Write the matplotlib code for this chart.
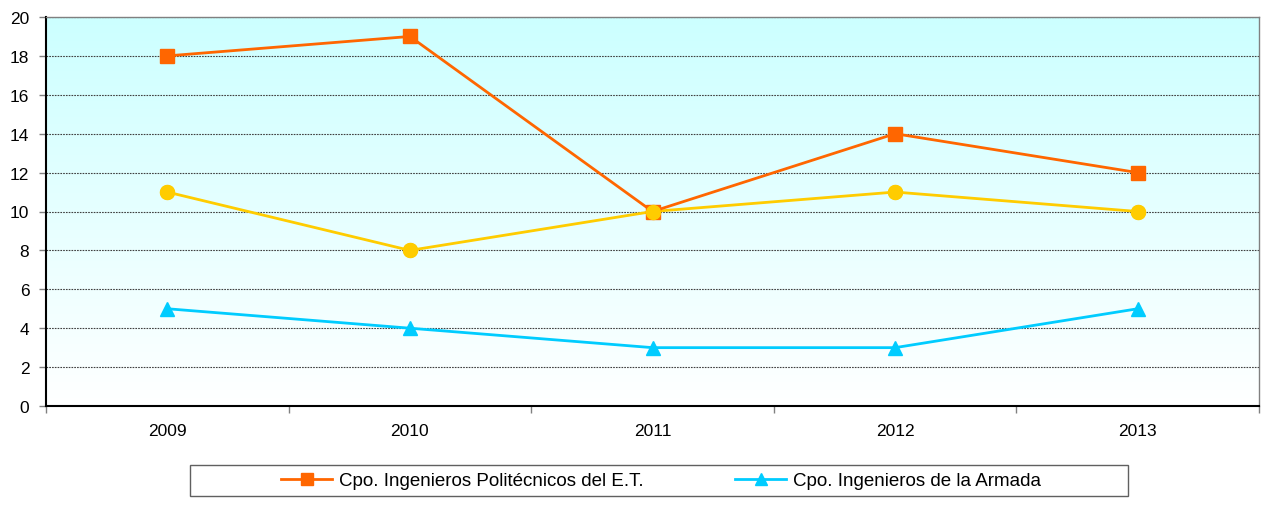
import numpy as np
import matplotlib.pyplot as plt
from matplotlib.patches import Rectangle

years = ['2009', '2010', '2011', '2012', '2013']
politecnicos = [18, 19, 10, 14, 12]
otros = [11, 8, 10, 11, 10]
armada = [5, 4, 3, 3, 5]

plt.rcParams['font.family'] = ['Liberation Sans', 'DejaVu Sans']

fig = plt.figure(figsize=(12.62, 5.10), dpi=100)
ax = fig.add_axes([46/1262, 1-407/510, 1213/1262, 389/510])

# gradient background: light cyan at top to white at bottom
grad = np.linspace(0, 1, 256).reshape(-1, 1)
top = np.array([0.80, 1.0, 1.0])
bot = np.array([1.0, 1.0, 1.0])
img = bot + (top - bot) * grad[:, :, None] * np.ones((1, 1, 3))
ax.imshow(img, extent=[-0.5, 4.5, 0, 20], origin='lower', aspect='auto', zorder=0)

x = np.arange(len(years))
ax.plot(x, otros, color='#FFCC00', lw=2, marker='o', ms=10, zorder=3)
l1, = ax.plot(x, politecnicos, color='#FF6600', lw=2, marker='s', ms=10, zorder=4,
              label='Cpo. Ingenieros Politécnicos del E.T.')
l2, = ax.plot(x, armada, color='#00CCFF', lw=2, marker='^', ms=10, zorder=4,
              label='Cpo. Ingenieros de la Armada')
# yellow markers drawn on top of the orange one at 2011
ax.plot(x, otros, color='#FFCC00', lw=0, marker='o', ms=10, zorder=5)

ax.set_xlim(-0.5, 4.5)
ax.set_ylim(0, 20)
ax.set_yticks(range(0, 21, 2))
ax.set_xticks(x)
ax.set_xticklabels(years)
ax.set_xticks(np.arange(-0.5, 5, 1), minor=True)
ax.tick_params(axis='x', which='major', length=0, pad=12, labelsize=12.5)
ax.tick_params(axis='x', which='minor', length=5, width=1, color='#808080')
ax.tick_params(axis='y', length=5, width=1, pad=7, labelsize=12.5, color='#808080')
ax.yaxis.grid(True, color='#404040', ls=(0, (1.5, 1)), lw=0.8, zorder=1)
ax.set_axisbelow(True)

for s in ['left', 'bottom']:
    ax.spines[s].set_color('black')
    ax.spines[s].set_linewidth(1.5)
for s in ['top', 'right']:
    ax.spines[s].set_color('#808080')
    ax.spines[s].set_linewidth(1)

# legend box
fig.patches.append(Rectangle((190/1262, 1-497/510), 938/1262, 31/510,
                             transform=fig.transFigure, fill=False,
                             edgecolor='#606060', lw=1))
fig.legend(handles=[l1, l2], loc='center', bbox_to_anchor=(661/1262, 1-481.5/510),
           ncol=2, frameon=False, fontsize=13.5, handlelength=2.7,
           handletextpad=0.37, columnspacing=4.9, markerscale=0.85)

fig.savefig('out.png', dpi=100)
